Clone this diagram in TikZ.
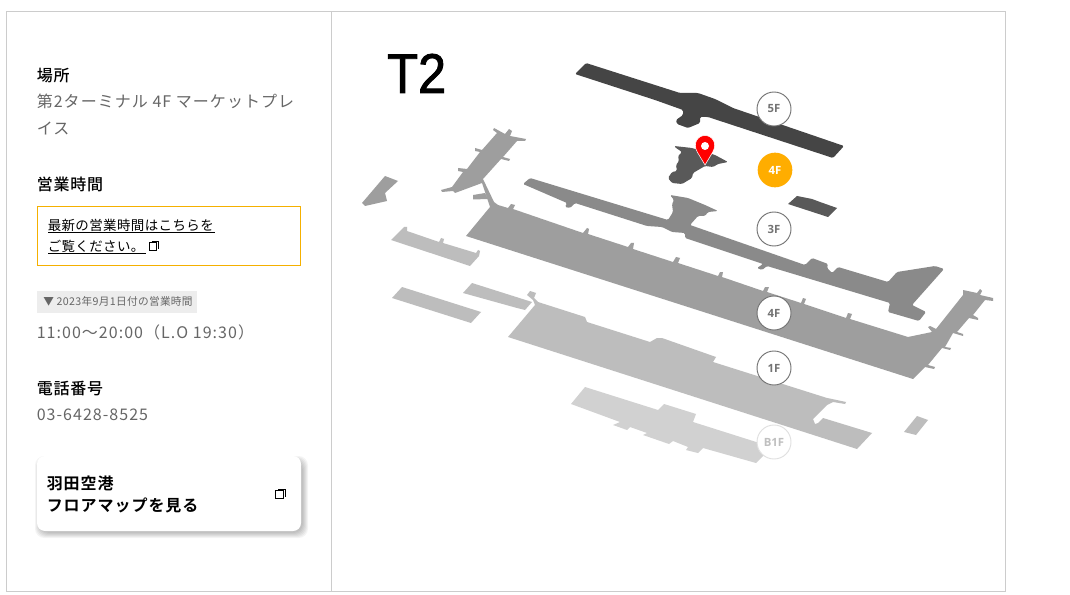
\documentclass[tikz,border=0pt]{standalone}
\usepackage{fontspec}
\usetikzlibrary{positioning}
\newfontfamily\jpfont[LetterSpace=6.5]{Noto Sans CJK JP}
\newfontfamily\jpsmall[LetterSpace=3]{Noto Sans CJK JP}
\newfontfamily\jpmid[LetterSpace=5]{Noto Sans CJK JP Medium}
\newfontfamily\jpbtn[LetterSpace=6]{Noto Sans CJK JP Bold}
\newfontfamily\titlefont[FakeBold=1.6,FakeStretch=0.9]{Liberation Sans}
\setsansfont{Open Sans}
\definecolor{framegray}{HTML}{CCCCCC}
\definecolor{textgray}{HTML}{666666}
\definecolor{noticeyellow}{HTML}{F5B000}
\definecolor{floororange}{HTML}{FFAD00}
\tikzset{
	heading/.style={anchor=base west,inner sep=0pt,text=black,font=\jpmid\fontsize{12}{20.25}\selectfont},
	body/.style={anchor=base west,inner sep=0pt,text=textgray,font=\jpfont\fontsize{12}{20.25}\selectfont},
	notice/.style={anchor=base west,inner sep=0pt,text=black,font=\jpsmall\fontsize{10.1}{16}\selectfont},
	buttontext/.style={anchor=base west,inner sep=0pt,text=black,font=\jpbtn\fontsize{12}{16.5}\selectfont},
	floorbtn/.style={circle,minimum size=25.5pt,inner sep=0pt,draw=#1,fill=white,line width=0.7pt,
		text=#1,font=\sffamily\bfseries\fontsize{8.5}{10}\selectfont},
	floorbtn/.default=black!55,
	pics/linkicon/.style={code={
		\draw[black,line width=0.75pt,fill=white] (-3.8,-4) rectangle (3.8,4);
		\draw[black,line width=0.6pt] (-1.5,-5.7) -- (5.8,-5.7) -- (5.8,1.8);
	}}
}
\begin{document}
\begin{tikzpicture}[x=0.75pt,y=-0.75pt]
\useasboundingbox (0,0) rectangle (1070,595);
\fill[white] (0,0) rectangle (1070,595);

% Frame
\draw[framegray,line width=0.75pt] (6.5,11.5) rectangle (1005.5,591.5);
\draw[framegray,line width=0.75pt] (331.5,11.5) -- (331.5,591.5);

% Location
\node[heading] (placehead) at (36.5,82){場所};
\node[body] (placetext) at (36.5,108){第2ターミナル 4F マーケットプレ};
\node[body] (placetexttwo) at (36.5,134.5){イス};

% Opening hours
\node[heading] (hourshead) at (36.5,190.5){営業時間};
\draw[noticeyellow,line width=0.75pt] (37.5,206.5) rectangle (300.5,265.5);
\node[notice] (noticeone) at (47.5,231){最新の営業時間はこちらを};
\node[notice] (noticetwo) at (47.5,252){ご覧ください。};
\draw[black,line width=0.7pt] (48,232.5) -- (215,232.5);
\draw[black,line width=0.7pt] (48,253.5) -- (146,253.5);
\pic at (153,247) {linkicon};
\fill[black!7] (37,291) rectangle (197,313);
\node[anchor=base west,inner sep=0pt,text=textgray,font=\jpsmall\fontsize{8}{10}\selectfont] (hourstag) at (43,305.5){▼ 2023年9月1日付の営業時間};
\node[body] (hourstext) at (36.5,338){11:00〜20:00（L.O 19:30）};

% Telephone
\node[heading] (telhead) at (36.5,394.5){電話番号};
\node[body] (teltext) at (36.5,420){03-6428-8525};

% Map button
\foreach \s in {1,...,6}
	\fill[black,opacity=0.045,rounded corners=7pt] (41-\s,462-\s) rectangle (302+\s,532+\s);
\fill[white,rounded corners=6pt] (37,456) rectangle (301,531);
\node[buttontext] (buttonone) at (46.5,489){羽田空港};
\node[buttontext] (buttontwo) at (46.5,511){フロアマップを見る};
\pic at (279.5,494.7) {linkicon};

% T2 title
\node[anchor=base west,inner sep=0pt,text=black,font=\titlefont\fontsize{42}{42}\selectfont] (title) at (387,93){T2};

% Floor B1F
\fill[black!18] (585,387) -- (658,410) -- (664,404) -- (696,414) -- (693,422) -- (772,447) -- (756,463)
	-- (703,448) -- (698,453) -- (686,450) -- (688,447) -- (673,441) -- (669,444) -- (643,435) -- (647,433)
	-- (630,427) -- (627,430) -- (613,425) -- (620,422) -- (571,404) -- cycle;

% Floor 1F
\fill[black!26] (404,227) -- (407,227) -- (407,231) -- (439,242) -- (441,238) -- (444,239) -- (443,243)
	-- (476,253) -- (478,250) -- (480,251) -- (479,256) -- (470,266) -- (391,240) -- cycle;
\fill[black!26] (402,287) -- (481,312) -- (471,323) -- (392,298) -- cycle;
\fill[black!26] (472,283) -- (532,302) -- (525,310) -- (517,308) -- (463,293) -- cycle;
\fill[black!26] (535,305) -- (533,300) -- (527,295) -- (530,291) -- (536,293) -- (534,298) -- (538,302)
	-- (585,317) -- (587,322) -- (650,342) -- (657,338) -- (662,338) -- (716,357) -- (713,362) -- (827,398)
	-- (832,399) -- (846,402) -- (845,404) -- (833,402) -- (827,405) -- (813,419) -- (815,424) -- (818,423)
	-- (823,418) -- (872,433) -- (857,449) -- (508,337) -- cycle;
\fill[black!26] (917,416) -- (928,420) -- (916,435) -- (904,432) -- cycle;

% Floor 4F
\fill[black!38] (385,176) -- (398,181) -- (385,193) -- (387,201) -- (365,206) -- (362,203) -- cycle;
\fill[black!38] (466,236) -- (490,207) -- (482,183) -- (455,193) -- (453,191) -- (442,192) -- (441,190)
	-- (452,187) -- (463,172) -- (458,171) -- (458,168) -- (467,169) -- (480,152) -- (475,151) -- (475,148)
	-- (482,150) -- (497,133) -- (493,130) -- (494,128) -- (505,134) -- (509,129) -- (512,131)
	-- (510,136) -- (526,139) -- (525,141) -- (517,141) -- (503,157) -- (510,159) -- (509,161) -- (501,159)
	-- (483,179) -- (494,202) -- (498,205) -- (508,208) -- (511,204) -- (515,205) -- (513,209)
	-- (583,233) -- (587,228) -- (589,229) -- (588,234) -- (628,247) -- (631,243) -- (634,243) -- (633,249)
	-- (673,262) -- (676,257) -- (680,258) -- (678,263) -- (718,276) -- (720,272) -- (723,272) -- (722,277)
	-- (763,291) -- (765,287) -- (769,287) -- (767,292) -- (801,303) -- (803,298) -- (806,299) -- (804,304)
	-- (846,318) -- (848,313) -- (852,314) -- (850,319) -- (908,337) -- (932,332) -- (928,327) -- (930,326)
	-- (936,329) -- (963,295) -- (963,290) -- (977,293) -- (980,289) -- (982,291) -- (980,295) -- (993,298)
	-- (993,301) -- (985,300) -- (973,315) -- (978,318) -- (978,320) -- (969,318) -- (957,332) -- (963,334)
	-- (963,336) -- (953,333) -- (945,347) -- (951,348) -- (950,350) -- (942,348) -- (928,365) -- (935,367)
	-- (934,369) -- (925,367) -- (913,379) -- cycle;
\fill[black!38] (473,195) -- (485,193) -- (488,199) -- (473,199.5) -- cycle;

% Floor 3F
\fill[black!46,rounded corners=1pt] (530,178) -- (668,220) -- (673,212) -- (672,204) -- (674,200) -- (670,195)
	-- (688,198) -- (705,205) -- (718,211) -- (708,212) -- (705,216) -- (698,216) -- (690,225) -- (805,265) -- (812,258)
	-- (828,264) -- (827,268) -- (832,273) -- (838,267) -- (888,282) -- (897,272) -- (935,266) -- (944,269)
	-- (912,305) -- (926,312) -- (919,321) -- (888,312) -- (890,303) -- (767,266) -- (762,270)
	-- (757,268) -- (763,264) -- (685,238) -- (685,233) -- (672,232) -- (662,227) -- (647,226)
	-- (575,203) -- (570,208) -- (565,207) -- (567,203) -- (523,184) -- cycle;

% Floor 4F shop
\fill[black!65] (797,196) -- (812,199) -- (820,202) -- (837,208) -- (828,217) -- (788,204) -- cycle;
\fill[black!65,rounded corners=1pt] (674,146) -- (692,148) -- (715,155) -- (728,162) -- (718,164) -- (713,167) -- (705,166)
	-- (693,173) -- (692,178) -- (682,184) -- (672,183) -- (668,178) -- (672,172) -- (677,171)
	-- (676,165) -- (679,161) -- (678,156) -- (682,152) -- (676,148) -- cycle;

% Floor 5F
\fill[black!73,rounded corners=1pt] (586,63) -- (680,93) -- (698,93) -- (715,99) -- (733,108) -- (844,146) -- (833,158)
	-- (708,117) -- (700,117) -- (700,123) -- (688,128) -- (677,124) -- (676,120) -- (683,115) -- (683,110)
	-- (655,100) -- (575,74) -- cycle;

% Marker
\fill[red,draw=white,line width=0.4pt] (705,165) -- (697.5,152.5) .. controls (692,143) and (698,135.5) .. (705,135.5)
	.. controls (712,135.5) and (718,143) .. (712.5,152.5) -- cycle;
\fill[white] (705,146) circle (4);

% Floor buttons
\node[floorbtn] (fiveF) at (774,109){5F};
\node[circle,minimum size=26pt,inner sep=0pt,fill=floororange,text=white,font=\sffamily\bfseries\fontsize{8.5}{10}\selectfont] (fourFnow) at (775,170){4F};
\node[floorbtn] (threeF) at (774,229){3F};
\node[floorbtn] (fourF) at (774,313){4F};
\node[floorbtn] (oneF) at (774,368){1F};
\node[floorbtn=black!12,text=black!25] (basementF) at (774,442){B1F};

\end{tikzpicture}
\end{document}
